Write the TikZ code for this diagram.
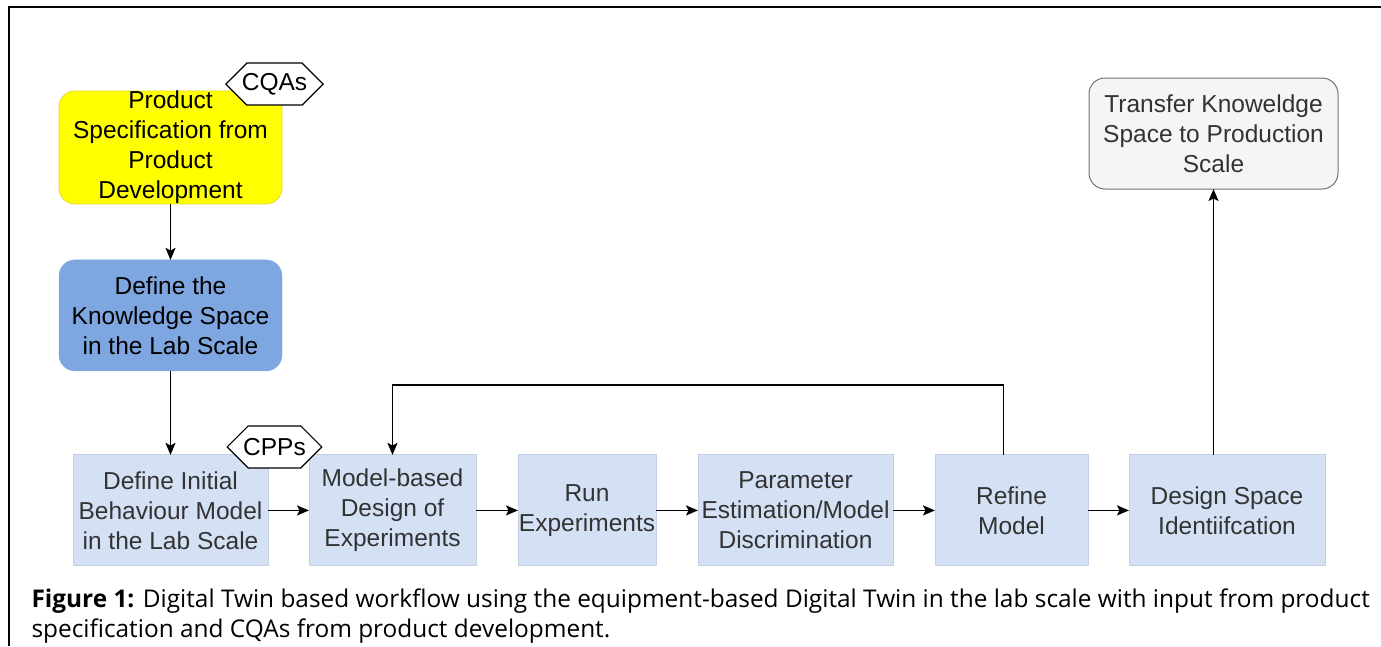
\documentclass[tikz,border=0pt]{standalone}
\usepackage{fontspec}
\setmainfont{Liberation Sans}
\newfontfamily\capfont{Open Sans}
\usetikzlibrary{arrows.meta,positioning,shapes.symbols}
\definecolor{specyellow}{HTML}{FFFF00}
\definecolor{spaceblue}{HTML}{7EA6E0}
\definecolor{stepfill}{HTML}{D4E1F5}
\definecolor{stepline}{HTML}{C3CFE3}
\definecolor{transfill}{HTML}{F5F5F5}
\definecolor{transline}{HTML}{707070}
\definecolor{steptext}{HTML}{333333}
\tikzset{
  stepbox/.style={draw=stepline,fill=stepfill,text=steptext,line width=1pt,outer sep=0pt,minimum height=111pt,align=center,inner sep=0pt},
  roundbox/.style={rounded corners=16pt,minimum width=223pt,minimum height=111pt,align=center,inner sep=0pt,outer sep=0pt},
  tag/.style={signal,signal to=west and east,signal pointer angle=90,draw,fill=white,line width=1.2pt,minimum height=42pt,inner xsep=-5pt,inner ysep=0pt},
  flow/.style={->,line width=1.6pt}
}
\begin{document}
\begin{tikzpicture}[x=1pt,y=-1pt,>={Stealth[length=12pt,width=10pt,inset=2.5pt]},node distance=42pt,font=\fontsize{24.5}{30}\selectfont]
\useasboundingbox (0,0) rectangle (1381,646);
\draw[line width=2pt] (9,646) -- (9,7) -- (1381,7);
% left column
\node (spec) [roundbox,fill=specyellow,draw=yellow!88!black,line width=0.8pt] at (170.5,147.5) {Product\\Specification from\\Product\\Development};
\node (space) [roundbox,fill=spaceblue,draw=spaceblue,below=56pt of spec] {Define the\\Knowledge Space\\in the Lab Scale};
% lab scale workflow
\node (init) [stepbox,minimum width=195pt,below=84pt of space] {Define Initial\\Behaviour Model\\in the Lab Scale};
\node (mbdoe) [stepbox,minimum width=167pt,right=41pt of init] {Model-based\\Design of\\Experiments};
\node (run) [stepbox,minimum width=138pt,right=of mbdoe] {Run\\Experiments};
\node (param) [stepbox,minimum width=195pt,right=of run] {Parameter\\Estimation/Model\\Discrimination};
\node (refine) [stepbox,minimum width=153pt,right=of param] {Refine\\Model};
\node (design) [stepbox,minimum width=196pt,right=41pt of refine] {Design Space\\Identiifcation};
\node (transfer) [roundbox,minimum width=249pt,fill=transfill,draw=transline,text=steptext,line width=1pt] at (1213.5,133.5) {Transfer Knoweldge\\Space to Production\\Scale};
% tags
\node (cqa) [tag] at ([shift={(-7.5pt,7pt)}]spec.north east) {CQAs};
\node (cpp) [tag] at ([shift={(6.5pt,8pt)}]init.north east) {CPPs};
% connectors
\draw[flow] (spec) -- (space);
\draw[flow] (space) -- (init);
\draw[flow] (init) -- (mbdoe);
\draw[flow] (mbdoe) -- (run);
\draw[flow] (run) -- (param);
\draw[flow] (param) -- (refine);
\draw[flow] (refine) -- (design);
\draw[flow] ([xshift=-8pt]refine.north) -- ++(0pt,70pt) -| (mbdoe.north);
\draw[flow] (transfer.south |- design.north) -- (transfer.south);
% caption
\node (caption) [anchor=west,align=left,font=\capfont\fontsize{24.4}{30}\selectfont] at (28,616) {\textbf{Figure 1:} Digital Twin based workflow using the equipment-based Digital Twin in the lab scale with input from product\\specification and CQAs from product development.};
\end{tikzpicture}
\end{document}
